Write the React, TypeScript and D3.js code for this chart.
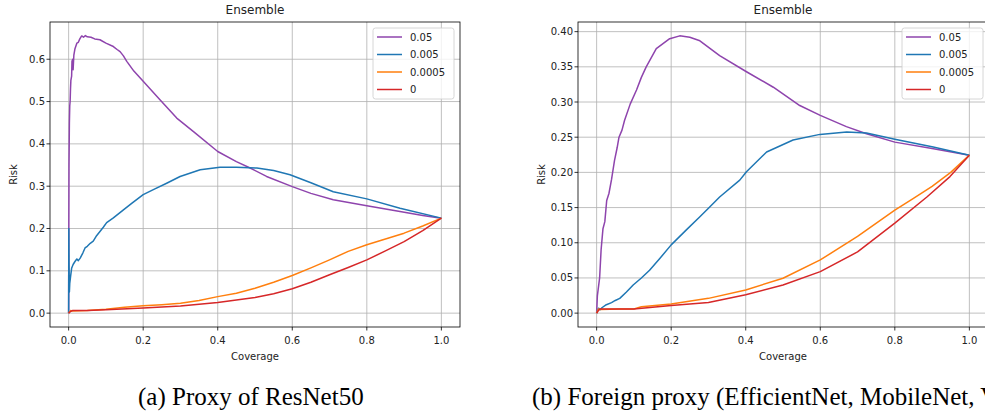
import React from "react";
import * as d3 from "d3";

type Pt = [number, number];

const seriesLabels = ["0.05", "0.005", "0.0005", "0"];
const seriesColors = ["#8e44ad", "#1f77b4", "#ff7f0e", "#d62728"];

const xTicks = [0, 0.2, 0.4, 0.6, 0.8, 1.0];
const leftYTicks = [0, 0.1, 0.2, 0.3, 0.4, 0.5, 0.6];
const rightYTicks = [0, 0.05, 0.1, 0.15, 0.2, 0.25, 0.3, 0.35, 0.4];

const captions = ["(a) Proxy of ResNet50", "(b) Foreign proxy (EfficientNet, MobileNet, VGG)"];

// Left panel (Proxy of ResNet50)
const leftPurple: Pt[] = [[0,0],[0.0005,0.2],[0.001,0.35],[0.002,0.45],[0.003,0.49],[0.004,0.5],[0.005,0.53],[0.006,0.55],[0.008,0.56],[0.009,0.595],[0.011,0.6],[0.012,0.575],[0.014,0.61],[0.017,0.625],[0.022,0.638],[0.026,0.64],[0.03,0.648],[0.035,0.655],[0.04,0.652],[0.045,0.656],[0.05,0.653],[0.06,0.652],[0.07,0.648],[0.084,0.646],[0.1,0.638],[0.12,0.63],[0.13,0.623],[0.138,0.618],[0.147,0.608],[0.156,0.595],[0.175,0.572],[0.2,0.548],[0.245,0.504],[0.29,0.461],[0.335,0.429],[0.4,0.382],[0.45,0.358],[0.487,0.343],[0.531,0.323],[0.6,0.299],[0.65,0.283],[0.71,0.268],[0.8,0.254],[0.889,0.24],[0.95,0.231],[1,0.2245]];
const leftBlue: Pt[] = [[0,0],[0.0005,0.2],[0.001,0.12],[0.002,0.05],[0.003,0.07],[0.005,0.085],[0.008,0.106],[0.012,0.115],[0.017,0.122],[0.022,0.128],[0.026,0.124],[0.031,0.13],[0.038,0.142],[0.044,0.154],[0.05,0.158],[0.058,0.165],[0.066,0.17],[0.075,0.183],[0.084,0.193],[0.093,0.203],[0.102,0.214],[0.12,0.225],[0.147,0.244],[0.17,0.26],[0.2,0.28],[0.23,0.293],[0.263,0.307],[0.299,0.323],[0.353,0.339],[0.406,0.345],[0.45,0.345],[0.505,0.343],[0.55,0.337],[0.594,0.327],[0.65,0.308],[0.71,0.287],[0.8,0.27],[0.889,0.248],[1,0.2245]];
const leftOrange: Pt[] = [[0,0],[0.005,0.006],[0.01,0.005],[0.05,0.006],[0.1,0.009],[0.15,0.014],[0.2,0.0173],[0.25,0.02],[0.3,0.0236],[0.35,0.03],[0.4,0.039],[0.45,0.047],[0.5,0.059],[0.55,0.073],[0.6,0.089],[0.65,0.107],[0.7,0.126],[0.75,0.146],[0.8,0.1615],[0.85,0.175],[0.9,0.189],[0.95,0.206],[1,0.2245]];
const leftRed: Pt[] = [[0,0],[0.005,0.004],[0.01,0.006],[0.05,0.006],[0.1,0.008],[0.2,0.012],[0.3,0.017],[0.4,0.025],[0.5,0.037],[0.55,0.046],[0.6,0.0575],[0.65,0.073],[0.7,0.0906],[0.75,0.108],[0.8,0.126],[0.85,0.147],[0.9,0.169],[0.95,0.195],[1,0.2245]];

// Right panel (Foreign proxy)
const rightPurple: Pt[] = [[0,0],[0.002,0.025],[0.008,0.05],[0.012,0.09],[0.017,0.12],[0.022,0.13],[0.027,0.16],[0.033,0.17],[0.04,0.19],[0.048,0.217],[0.055,0.235],[0.06,0.25],[0.068,0.26],[0.075,0.274],[0.09,0.297],[0.107,0.317],[0.12,0.335],[0.133,0.35],[0.16,0.376],[0.196,0.39],[0.223,0.394],[0.25,0.392],[0.277,0.387],[0.33,0.366],[0.402,0.343],[0.474,0.321],[0.545,0.295],[0.6,0.281],[0.67,0.265],[0.724,0.255],[0.8,0.243],[0.9,0.234],[1,0.2245]];
const rightBlue: Pt[] = [[0,0],[0.005,0.007],[0.01,0.005],[0.015,0.008],[0.026,0.012],[0.04,0.015],[0.05,0.018],[0.062,0.021],[0.08,0.03],[0.098,0.04],[0.12,0.05],[0.142,0.061],[0.17,0.078],[0.2,0.097],[0.24,0.118],[0.277,0.137],[0.3,0.149],[0.33,0.165],[0.384,0.189],[0.402,0.201],[0.456,0.229],[0.527,0.246],[0.599,0.254],[0.671,0.2575],[0.724,0.256],[0.8,0.247],[0.903,0.236],[1,0.2245]];
const rightOrange: Pt[] = [[0,0],[0.005,0.006],[0.01,0.005],[0.06,0.006],[0.1,0.006],[0.12,0.009],[0.2,0.013],[0.3,0.021],[0.4,0.033],[0.5,0.0496],[0.6,0.0756],[0.7,0.109],[0.8,0.1465],[0.85,0.163],[0.9,0.18],[0.95,0.2],[1,0.2245]];
const rightRed: Pt[] = [[0,0],[0.005,0.004],[0.01,0.006],[0.1,0.006],[0.2,0.011],[0.3,0.015],[0.4,0.026],[0.5,0.04],[0.6,0.059],[0.7,0.087],[0.8,0.128],[0.886,0.165],[0.948,0.194],[1,0.2245]];

const leftSeries = [leftPurple, leftBlue, leftOrange, leftRed];
const rightSeries = [rightPurple, rightBlue, rightOrange, rightRed];

const FONT = "DejaVu Sans, sans-serif";

function Panel(props: {
  id: string; x0: number; x1: number; y0: number; y1: number;
  yDomain: [number, number]; yTicks: number[]; yFmt: string;
  series: Pt[][]; legendX: number; caption: string; captionX: number;
}) {
  const { id, x0, x1, y0, y1, yDomain, yTicks, yFmt, series, legendX, caption, captionX } = props;
  const x = d3.scaleLinear().domain([-0.05, 1.05]).range([x0, x1]);
  const y = d3.scaleLinear().domain(yDomain).range([y1, y0]);
  const line = d3.line<Pt>().x(d => x(d[0])).y(d => y(d[1]));
  const fmt = d3.format(yFmt);
  const xfmt = d3.format(".1f");
  const cx = (x0 + x1) / 2;
  const legY = 28;
  return (
    <g>
      <defs>
        <clipPath id={id}>
          <rect x={x0} y={y0} width={x1 - x0} height={y1 - y0} />
        </clipPath>
      </defs>
      <rect x={x0} y={y0} width={x1 - x0} height={y1 - y0} fill="white" />
      {xTicks.map((t, i) => (
        <line key={"gx" + i} x1={x(t)} x2={x(t)} y1={y0} y2={y1} stroke="#b0b0b0" strokeWidth={0.8} />
      ))}
      {yTicks.map((t, i) => (
        <line key={"gy" + i} x1={x0} x2={x1} y1={y(t)} y2={y(t)} stroke="#b0b0b0" strokeWidth={0.8} />
      ))}
      <g clipPath={`url(#${id})`}>
        {series.map((s, i) => (
          <path key={i} d={line(s) || ""} fill="none" stroke={seriesColors[i]} strokeWidth={1.5} strokeLinejoin="round" />
        ))}
      </g>
      <rect x={x0} y={y0} width={x1 - x0} height={y1 - y0} fill="none" stroke="black" strokeWidth={0.8} />
      {xTicks.map((t, i) => (
        <g key={"tx" + i}>
          <line x1={x(t)} x2={x(t)} y1={y1} y2={y1 + 3.5} stroke="black" strokeWidth={0.8} />
          <text x={x(t)} y={y1 + 17} textAnchor="middle" fontSize={10} fontFamily={FONT} fill="#222">{xfmt(t)}</text>
        </g>
      ))}
      {yTicks.map((t, i) => (
        <g key={"ty" + i}>
          <line x1={x0 - 3.5} x2={x0} y1={y(t)} y2={y(t)} stroke="black" strokeWidth={0.8} />
          <text x={x0 - 5} y={y(t) + 3.5} textAnchor="end" fontSize={10} fontFamily={FONT} fill="#222">{fmt(t)}</text>
        </g>
      ))}
      <text x={cx} y={360} textAnchor="middle" fontSize={10} fontFamily={FONT} fill="#222">Coverage</text>
      <text transform={`translate(${x0 - 33},${(y0 + y1) / 2}) rotate(-90)`} textAnchor="middle" fontSize={10} fontFamily={FONT} fill="#222">Risk</text>
      <text x={cx} y={14} textAnchor="middle" fontSize={12} fontFamily={FONT} fill="#222">Ensemble</text>
      <g>
        <rect x={legendX} y={legY} width={81} height={71} rx={2.5} fill="white" fillOpacity={0.8} stroke="#cccccc" strokeWidth={0.8} />
        {seriesLabels.map((lab, i) => {
          const ly = legY + 9 + i * 17.5;
          return (
            <g key={lab}>
              <line x1={legendX + 4} x2={legendX + 29} y1={ly} y2={ly} stroke={seriesColors[i]} strokeWidth={1.5} />
              <text x={legendX + 37} y={ly + 3.5} fontSize={10} fontFamily={FONT} fill="#222">{lab}</text>
            </g>
          );
        })}
      </g>
      <text x={captionX} y={405} textAnchor="start" fontSize={25} fontFamily="Liberation Serif, Times New Roman, serif" fill="black">{caption}</text>
    </g>
  );
}

export default function App() {
  return (
    <svg width={985} height={414} style={{ position: "absolute", left: 0, top: 0, background: "white" }}>
      <rect width={985} height={414} fill="white" />
      <Panel id="clipL" x0={50} x1={460} y0={22} y1={327} yDomain={[-0.03275, 0.688]} yTicks={leftYTicks} yFmt=".1f"
        series={leftSeries} legendX={373} caption={captions[0]} captionX={138} />
      <Panel id="clipR" x0={578} x1={988} y0={22} y1={327} yDomain={[-0.0197, 0.4137]} yTicks={rightYTicks} yFmt=".2f"
        series={rightSeries} legendX={902} caption={captions[1]} captionX={532} />
    </svg>
  );
}
